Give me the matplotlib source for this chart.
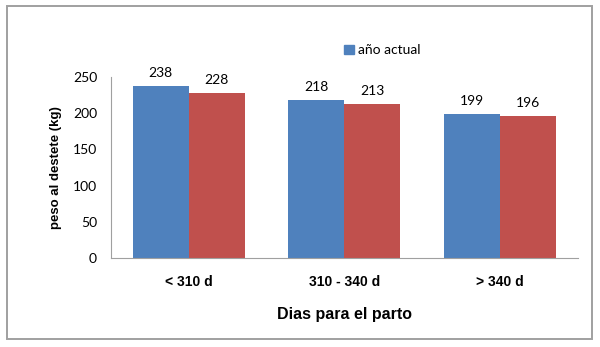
import matplotlib
matplotlib.use("Agg")
import matplotlib.pyplot as plt
import matplotlib.patches as mpatches
import numpy as np

categories = ["< 310 d", "310 - 340 d", "> 340 d"]
actual = [238, 218, 199]
previo = [228, 213, 196]

BLUE = "#4F81BD"
RED = "#C0504D"
NUM_FONT = "Lato"

fig = plt.figure(figsize=(6.0, 3.47), dpi=100)
ax = fig.add_axes([0.185, 0.2565, 0.778, 0.5215])

x = np.arange(len(categories))
w = 0.36
b1 = ax.bar(x - w / 2, actual, w, color=BLUE, label="año actual")
b2 = ax.bar(x + w / 2, previo, w, color=RED)

for bars, vals in ((b1, actual), (b2, previo)):
    for bar, v in zip(bars, vals):
        ax.annotate(str(v), (bar.get_x() + bar.get_width() / 2, v),
                    xytext=(0, 5), textcoords="offset points",
                    ha="center", va="bottom", fontsize=10, family=NUM_FONT)

ax.set_xlim(-0.5, 2.5)
ax.set_ylim(0, 250)
ax.set_yticks([0, 50, 100, 150, 200, 250])
ax.set_xticks(x)
ax.set_xticklabels(categories, fontsize=10, fontweight="bold", family="Liberation Sans")
for lbl in ax.get_yticklabels():
    lbl.set_fontsize(10)
    lbl.set_family(NUM_FONT)
ax.tick_params(axis="y", length=0, pad=10)
ax.tick_params(axis="x", length=0, pad=12)

ax.spines["top"].set_visible(False)
ax.spines["right"].set_visible(False)
ax.spines["left"].set_color("#A0A0A0")
ax.spines["bottom"].set_color("#A0A0A0")

ax.set_ylabel("peso al destete (kg)", fontsize=9.5, fontweight="bold",
              family="Liberation Sans", labelpad=8)
ax.set_xlabel("Dias para el parto", fontsize=11.5, fontweight="bold",
              family="Liberation Sans", labelpad=13)

handle = mpatches.Patch(color=BLUE, label="año actual")
fig.legend(handles=[handle], loc="center left", bbox_to_anchor=(0.553, 0.855),
           frameon=False, handlelength=0.7, handleheight=0.7,
           handletextpad=0.3, prop={"family": NUM_FONT, "size": 10})

# outer chart frame
frame = mpatches.Rectangle((7 / 600, 8 / 347), 585 / 600, 333 / 347,
                           transform=fig.transFigure, fill=False,
                           edgecolor="#A0A0A0", linewidth=1.4)
fig.patches.append(frame)

fig.savefig("out.png", dpi=100)
plt.close(fig)
